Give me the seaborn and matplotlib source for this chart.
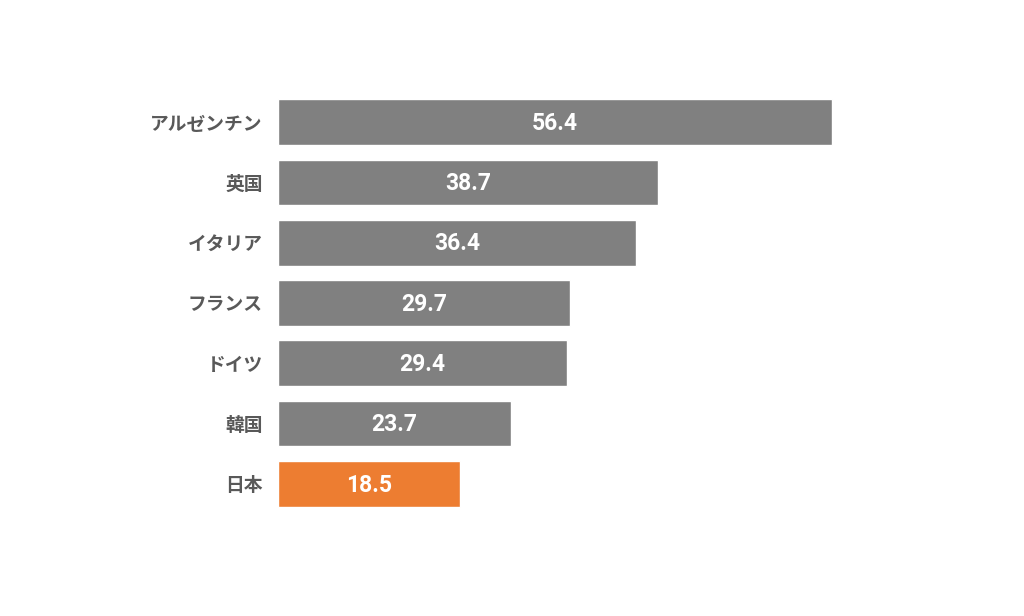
import matplotlib
matplotlib.use("Agg")
import matplotlib.pyplot as plt
import seaborn as sns
import pandas as pd

# data
countries = ['アルゼンチン', '英国', 'イタリア', 'フランス', 'ドイツ', '韓国', '日本']
values = [56.4, 38.7, 36.4, 29.7, 29.4, 23.7, 18.5]
bar_colors = ['#808080'] * 6 + ['#ED7D31']

df = pd.DataFrame({'country': countries, 'value': values})

sns.set_theme(style="white")
plt.rcParams['font.family'] = ['Noto Sans CJK JP', 'DejaVu Sans']

fig = plt.figure(figsize=(10.24, 6.16), dpi=100)
ax = fig.add_axes([0.2715, 0.1656, 0.5755, 0.685])

sns.barplot(data=df, x='value', y='country', hue='country', palette=bar_colors,
            legend=False, width=0.76, saturation=1, ax=ax)

# value labels inside bars
for i, v in enumerate(values):
    ax.text(v / 2, i + 0.02, f'{v:.1f}', ha='center', va='center', color='white',
            fontsize=16.5, fontweight='bold', family=['Roboto', 'DejaVu Sans'])

ax.set_xlim(0, 60)
ax.set_ylim(6.5, -0.5)
ax.set_xlabel('')
ax.set_ylabel('')
ax.set_xticks([])
ax.tick_params(axis='y', length=0, pad=11, labelsize=13.5, labelcolor='#595959')
for lbl in ax.get_yticklabels():
    lbl.set_fontweight('bold')
sns.despine(ax=ax, left=True, bottom=True)

fig.savefig('out.png', dpi=100)
